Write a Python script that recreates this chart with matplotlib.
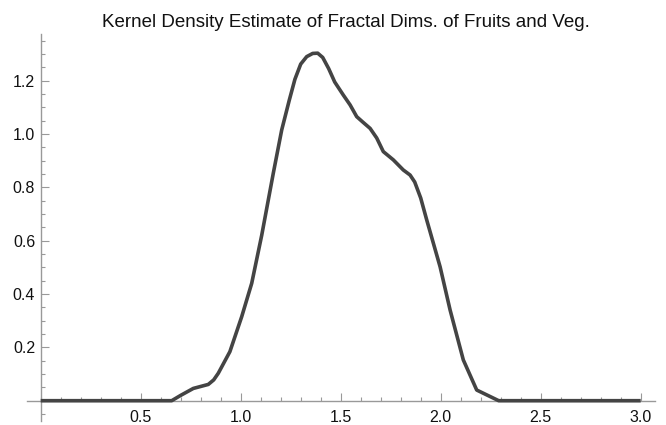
import matplotlib
matplotlib.use("Agg")
import matplotlib.pyplot as plt
from matplotlib.ticker import MultipleLocator, FixedLocator

plt.rcParams['font.family'] = ['Liberation Sans', 'DejaVu Sans']

title = "Kernel Density Estimate of Fractal Dims. of Fruits and Veg."
xs = [0.0, 0.655, 0.70, 0.763, 0.838, 0.865, 0.888, 0.946, 1.005, 1.055, 1.105,
      1.163, 1.205, 1.243, 1.271, 1.30, 1.33, 1.36, 1.385, 1.41, 1.44, 1.47,
      1.513, 1.547, 1.58, 1.61, 1.647, 1.68, 1.713, 1.763, 1.813, 1.847, 1.87,
      1.90, 1.93, 1.997, 2.047, 2.113, 2.18, 2.29, 3.0]
ys = [0.0, 0.0, 0.02, 0.046, 0.061, 0.078, 0.103, 0.184, 0.315, 0.44, 0.62,
      0.853, 1.015, 1.127, 1.205, 1.262, 1.290, 1.302, 1.303, 1.287, 1.245, 1.195,
      1.146, 1.109, 1.065, 1.045, 1.021, 0.985, 0.934, 0.903, 0.865, 0.846, 0.82,
      0.76, 0.678, 0.502, 0.34, 0.153, 0.04, 0.0, 0.0]
xticks = [0.5, 1.0, 1.5, 2.0, 2.5, 3.0]
yticks = [0.2, 0.4, 0.6, 0.8, 1.0, 1.2]

fig = plt.figure(figsize=(6.66, 4.25), dpi=100)
ax = fig.add_axes([27.1/666, (425-420.7)/425, 627.6/666, 387/425])
ax.plot(xs, ys, color='#444444', lw=2.6, solid_joinstyle='round', solid_capstyle='butt', zorder=5, clip_on=False)
ax.set_xlim(-0.068, 3.07)
ax.set_ylim(-0.075, 1.376)

for s in ['top', 'right']:
    ax.spines[s].set_visible(False)
ax.spines['left'].set_position(('data', 0))
ax.spines['bottom'].set_position(('data', 0))
for s in ['left', 'bottom']:
    ax.spines[s].set_color('#999999')
    ax.spines[s].set_linewidth(1.0)

ax.xaxis.set_major_locator(FixedLocator(xticks))
ax.yaxis.set_major_locator(FixedLocator(yticks))
ax.xaxis.set_minor_locator(MultipleLocator(0.1))
ax.yaxis.set_minor_locator(MultipleLocator(0.05))
ax.set_xticklabels([f"{v:.1f}" for v in xticks])
ax.set_yticklabels([f"{v:.1f}" for v in yticks])
ax.tick_params(which='major', direction='in', length=5.5, width=0.8, color='#999999', labelsize=11.5, labelcolor='#111111')
ax.tick_params(which='minor', direction='in', length=3, width=0.8, color='#999999')
ax.tick_params(axis='x', which='major', pad=6.5)
ax.tick_params(axis='y', which='major', pad=4)

fig.text(346/666, (425-27)/425, title, ha='center', va='baseline', fontsize=13.5, color='#111111')

fig.savefig('out.png', dpi=100)
